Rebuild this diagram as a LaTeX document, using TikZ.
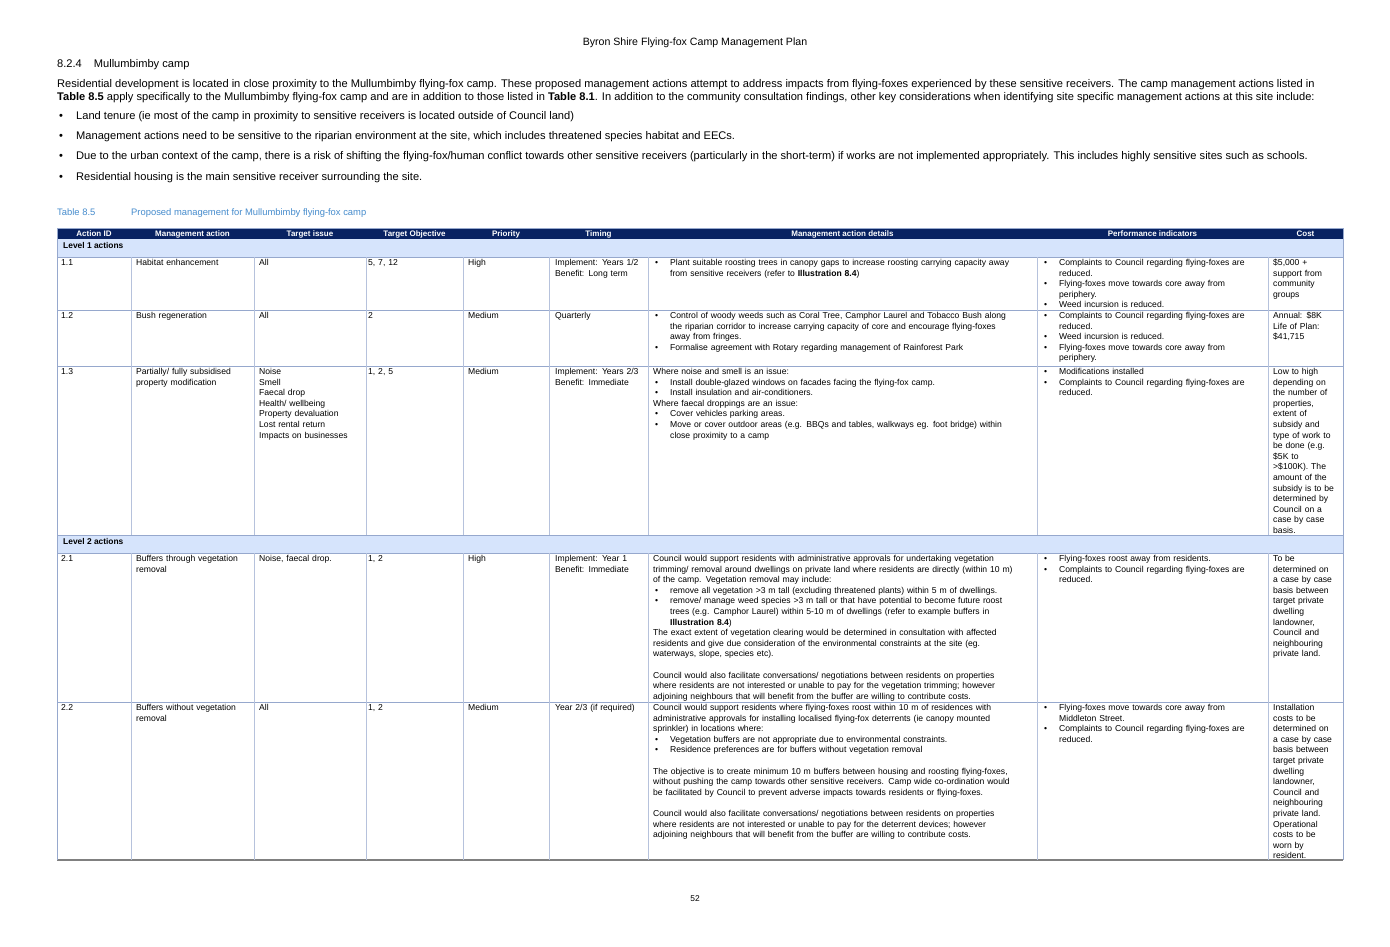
\documentclass[tikz,border=0pt]{standalone}
\usepackage{fontspec}
\setmainfont{Liberation Sans}
\definecolor{navy}{RGB}{8,34,98}
\definecolor{band}{RGB}{214,228,252}
\definecolor{rule}{RGB}{150,168,205}
\definecolor{capblue}{RGB}{70,140,205}
\newcommand{\bl}{\makebox[17pt][l]{\hspace{2pt}\textbullet}}
\newcommand{\bul}{\\\bl}
\newcommand{\hh}{\\\hspace*{17pt}}
\begin{document}
\begin{tikzpicture}[x=1pt,y=-1pt,
    cell/.style={anchor=north west,inner sep=0pt,align=left,text width=#1,font=\fontsize{8.6}{10.6}\selectfont},
    cell/.default=120pt,
    body/.style={anchor=base west,inner sep=0pt,font=\fontsize{11.1}{13}\selectfont},
    hdr/.style={text=white,font=\fontsize{8}{9}\selectfont\bfseries,inner sep=0pt}]
\useasboundingbox[fill=white] (0,0) rectangle (1390,947);
% page heading
\node(title) at (695,43) [font=\fontsize{10.6}{12}\selectfont] {Byron Shire Flying-fox Camp Management Plan};
\node(sect) at (57,68) [body] {8.2.4\hspace{12pt}Mullumbimby camp};
\node(p1) at (57,88) [body] {Residential development is located in close proximity to the Mullumbimby flying-fox camp. These proposed management actions attempt to address impacts from flying-foxes experienced by these sensitive receivers. The camp management actions listed in};
\node(p2) at (57,101) [body] {\textbf{Table 8.5} apply specifically to the Mullumbimby flying-fox camp and are in addition to those listed in \textbf{Table 8.1}. In addition to the community consultation findings, other key considerations when identifying site specific management actions at this site include:};
\foreach \yy/\txt [count=\i] in {120/{Land tenure (ie most of the camp in proximity to sensitive receivers is located outside of Council land)},
    140/{Management actions need to be sensitive to the riparian environment at the site, which includes threatened species habitat and EECs.},
    160/{Due to the urban context of the camp, there is a risk of shifting the flying-fox/human conflict towards other sensitive receivers (particularly in the short-term) if works are not implemented appropriately. This includes highly sensitive sites such as schools.},
    180/{Residential housing is the main sensitive receiver surrounding the site.}}
  {\node(bd\i) at (59,\yy) [body] {\textbullet};
   \node(bt\i) at (76,\yy) [body] {\txt};}
% caption
\node(cap1) at (57,215) [body,text=capblue,font=\fontsize{9.4}{10}\selectfont] {Table 8.5};
\node(cap2) at (131,215) [body,text=capblue,font=\fontsize{9.4}{10}\selectfont] {Proposed management for Mullumbimby flying-fox camp};
% bands
\fill[navy] (57,228) rectangle (1343,239);
\fill[band] (57,239) rectangle (1343,257);
\fill[band] (57,535) rectangle (1343,553);
\node(l1) at (63,245) [anchor=west,inner sep=0pt,font=\fontsize{8.4}{9}\selectfont\bfseries] {Level 1 actions};
\node(l2) at (63,541) [anchor=west,inner sep=0pt,font=\fontsize{8.4}{9}\selectfont\bfseries] {Level 2 actions};
\foreach \xa/\xb/\txt in {57/131/Action ID,131/254/Management action,254/366/Target issue,366/463/Target Objective,463/549/Priority,549/648/Timing,648/1037/Management action details,1037/1268/Performance indicators,1268/1343/Cost}
  \node at ({(\xa+\xb)/2},234) [hdr] {\txt};
% rules
\foreach \yy in {228,257,310,366,535,553,702}
  \draw[rule,line width=0.8pt] (57,\yy) -- (1343,\yy);
\draw[gray,line width=1.2pt] (57,860) -- (1343,860);
\foreach \xx in {131,254,366,463,549,648,1037,1268}
  {\draw[rule!70,line width=0.5pt] (\xx,257) -- (\xx,535);
   \draw[rule!70,line width=0.5pt] (\xx,553) -- (\xx,860);}
\draw[rule,line width=0.6pt] (57,228) -- (57,860);
\draw[rule,line width=0.6pt] (1343,228) -- (1343,860);
% row 1.1
\node(a11) at (61,259) [cell=60pt] {1.1};
\node(b11) at (136,259) [cell] {Habitat enhancement};
\node(c11) at (259,259) [cell=100pt] {All};
\node(d11) at (368,259) [cell=90pt] {5, 7, 12};
\node(e11) at (468,259) [cell=80pt] {High};
\node(f11) at (555,259) [cell=95pt] {Implement: Years 1/2\\Benefit: Long term};
\node(g11) at (653,259) [cell=385pt] {\bl Plant suitable roosting trees in canopy gaps to increase roosting carrying capacity away\hh from sensitive receivers (refer to \textbf{Illustration 8.4})};
\node(h11) at (1042,259) [cell=230pt] {\bl Complaints to Council regarding flying-foxes are\hh reduced.\bul Flying-foxes move towards core away from\hh periphery.\bul Weed incursion is reduced.};
\node(k11) at (1273,259) [cell=70pt] {\$5,000 +\\support from\\community\\groups};
% row 1.2
\node(a12) at (61,312) [cell=60pt] {1.2};
\node(b12) at (136,312) [cell] {Bush regeneration};
\node(c12) at (259,312) [cell=100pt] {All};
\node(d12) at (368,312) [cell=90pt] {2};
\node(e12) at (468,312) [cell=80pt] {Medium};
\node(f12) at (555,312) [cell=95pt] {Quarterly};
\node(g12) at (653,312) [cell=385pt] {\bl Control of woody weeds such as Coral Tree, Camphor Laurel and Tobacco Bush along\hh the riparian corridor to increase carrying capacity of core and encourage flying-foxes\hh away from fringes.\bul Formalise agreement with Rotary regarding management of Rainforest Park};
\node(h12) at (1042,312) [cell=230pt] {\bl Complaints to Council regarding flying-foxes are\hh reduced.\bul Weed incursion is reduced.\bul Flying-foxes move towards core away from\hh periphery.};
\node(k12) at (1273,312) [cell=70pt] {Annual: \$8K\\Life of Plan:\\\$41,715};
% row 1.3
\node(a13) at (61,368) [cell=60pt] {1.3};
\node(b13) at (136,368) [cell] {Partially/ fully subsidised\\property modification};
\node(c13) at (259,368) [cell=100pt] {Noise\\Smell\\Faecal drop\\Health/ wellbeing\\Property devaluation\\Lost rental return\\Impacts on businesses};
\node(d13) at (368,368) [cell=90pt] {1, 2, 5};
\node(e13) at (468,368) [cell=80pt] {Medium};
\node(f13) at (555,368) [cell=95pt] {Implement: Years 2/3\\Benefit: Immediate};
\node(g13) at (653,368) [cell=385pt] {Where noise and smell is an issue:\bul Install double-glazed windows on facades facing the flying-fox camp.\bul Install insulation and air-conditioners.\\Where faecal droppings are an issue:\bul Cover vehicles parking areas.\bul Move or cover outdoor areas (e.g. BBQs and tables, walkways eg. foot bridge) within\hh close proximity to a camp};
\node(h13) at (1042,368) [cell=230pt] {\bl Modifications installed\bul Complaints to Council regarding flying-foxes are\hh reduced.};
\node(k13) at (1273,368) [cell=70pt] {Low to high\\depending on\\the number of\\properties,\\extent of\\subsidy and\\type of work to\\be done (e.g.\\\$5K to\\>\$100K). The\\amount of the\\subsidy is to be\\determined by\\Council on a\\case by case\\basis.};
% row 2.1
\node(a21) at (61,555) [cell=60pt] {2.1};
\node(b21) at (136,555) [cell] {Buffers through vegetation\\removal};
\node(c21) at (259,555) [cell=100pt] {Noise, faecal drop.};
\node(d21) at (368,555) [cell=90pt] {1, 2};
\node(e21) at (468,555) [cell=80pt] {High};
\node(f21) at (555,555) [cell=95pt] {Implement: Year 1\\Benefit: Immediate};
\node(g21) at (653,555) [cell=385pt] {Council would support residents with administrative approvals for undertaking vegetation\\trimming/ removal around dwellings on private land where residents are directly (within 10 m)\\of the camp. Vegetation removal may include:\bul remove all vegetation >3 m tall (excluding threatened plants) within 5 m of dwellings.\bul remove/ manage weed species >3 m tall or that have potential to become future roost\hh trees (e.g. Camphor Laurel) within 5-10 m of dwellings (refer to example buffers in\hh\textbf{Illustration 8.4})\\The exact extent of vegetation clearing would be determined in consultation with affected\\residents and give due consideration of the environmental constraints at the site (eg.\\waterways, slope, species etc).\\[10.6pt]Council would also facilitate conversations/ negotiations between residents on properties\\where residents are not interested or unable to pay for the vegetation trimming; however\\adjoining neighbours that will benefit from the buffer are willing to contribute costs.};
\node(h21) at (1042,555) [cell=230pt] {\bl Flying-foxes roost away from residents.\bul Complaints to Council regarding flying-foxes are\hh reduced.};
\node(k21) at (1273,555) [cell=70pt] {To be\\determined on\\a case by case\\basis between\\target private\\dwelling\\landowner,\\Council and\\neighbouring\\private land.};
% row 2.2
\node(a22) at (61,704) [cell=60pt] {2.2};
\node(b22) at (136,704) [cell] {Buffers without vegetation\\removal};
\node(c22) at (259,704) [cell=100pt] {All};
\node(d22) at (368,704) [cell=90pt] {1, 2};
\node(e22) at (468,704) [cell=80pt] {Medium};
\node(f22) at (555,704) [cell=95pt] {Year 2/3 (if required)};
\node(g22) at (653,704) [cell=385pt] {Council would support residents where flying-foxes roost within 10 m of residences with\\administrative approvals for installing localised flying-fox deterrents (ie canopy mounted\\sprinkler) in locations where:\bul Vegetation buffers are not appropriate due to environmental constraints.\bul Residence preferences are for buffers without vegetation removal\\[10.6pt]The objective is to create minimum 10 m buffers between housing and roosting flying-foxes,\\without pushing the camp towards other sensitive receivers. Camp wide co-ordination would\\be facilitated by Council to prevent adverse impacts towards residents or flying-foxes.\\[10.6pt]Council would also facilitate conversations/ negotiations between residents on properties\\where residents are not interested or unable to pay for the deterrent devices; however\\adjoining neighbours that will benefit from the buffer are willing to contribute costs.};
\node(h22) at (1042,704) [cell=230pt] {\bl Flying-foxes move towards core away from\hh Middleton Street.\bul Complaints to Council regarding flying-foxes are\hh reduced.};
\node(k22) at (1273,704) [cell=70pt] {Installation\\costs to be\\determined on\\a case by case\\basis between\\target private\\dwelling\\landowner,\\Council and\\neighbouring\\private land.\\Operational\\costs to be\\worn by\\resident.};
% page number
\node(pg) at (695,899) [font=\fontsize{8.4}{9}\selectfont] {52};
\end{tikzpicture}
\end{document}
